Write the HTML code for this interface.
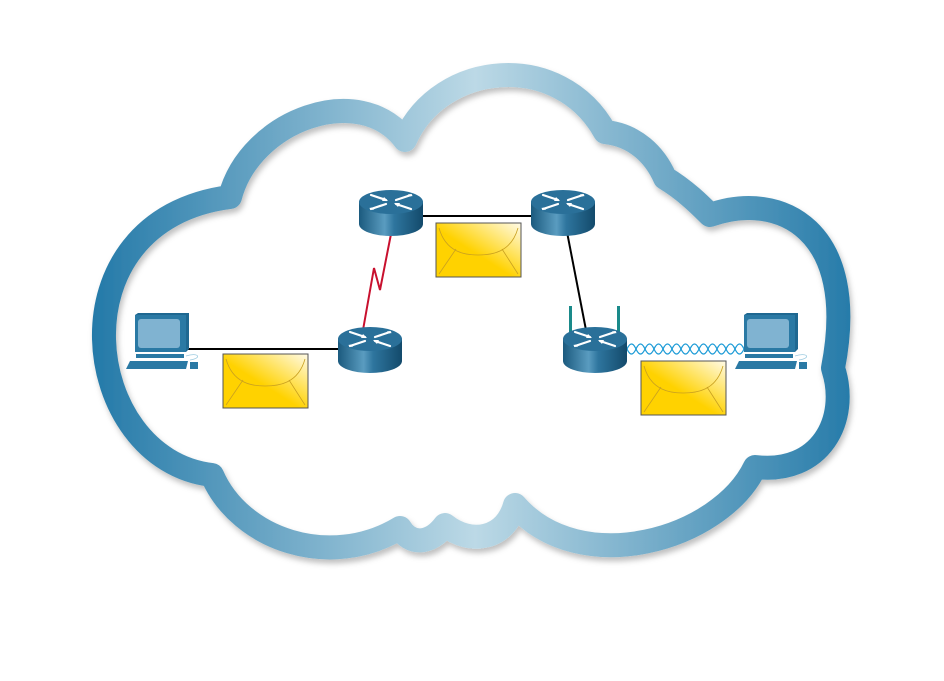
<!DOCTYPE html>
<html><head><meta charset="utf-8"><style>
html,body{margin:0;padding:0;background:#fff;}
svg{display:block;}
</style></head><body>
<svg width="944" height="681" viewBox="0 0 944 681" xmlns="http://www.w3.org/2000/svg">
<defs>
<linearGradient id="cg" x1="90" y1="0" x2="860" y2="0" gradientUnits="userSpaceOnUse">
<stop offset="0" stop-color="#2379a8"/>
<stop offset="0.5" stop-color="#bcd9e6"/>
<stop offset="1" stop-color="#2379a8"/>
</linearGradient>
<linearGradient id="rg" x1="0" y1="0" x2="1" y2="0">
<stop offset="0" stop-color="#1b5a7e"/>
<stop offset="0.4" stop-color="#5a9cc0"/>
<stop offset="0.55" stop-color="#2e759e"/>
<stop offset="1" stop-color="#134a6b"/>
</linearGradient>
<linearGradient id="eg" x1="0" y1="1" x2="1" y2="0">
<stop offset="0.45" stop-color="#ffd200"/>
<stop offset="1" stop-color="#fffbe8"/>
</linearGradient>
<filter id="sh" x="-10%" y="-10%" width="120%" height="120%"><feDropShadow dx="2" dy="4" stdDeviation="3" flood-color="#000" flood-opacity="0.25"/></filter>
<g id="router">
<path d="M-32 0 L-32 22 A32 12 0 0 0 32 22 L32 0 Z" fill="url(#rg)"/>
<ellipse cx="0" cy="0" rx="32" ry="12" fill="#2a7099"/>
<g stroke="#fff" stroke-width="2.2" stroke-linecap="round">
<line x1="-20" y1="-7" x2="-5" y2="-2"/><line x1="20" y1="7" x2="5" y2="2"/>
<line x1="20" y1="-7" x2="5" y2="-2"/><line x1="-20" y1="7" x2="-5" y2="2"/>
</g>
<g fill="#fff">
<polygon points="-3,-1 -9,-1 -7,-5"/>
<polygon points="3,1 9,1 7,5"/>
<polygon points="18,-8 22,-6 14,-5"/>
<polygon points="-18,8 -22,6 -14,5"/>
</g>
</g>
<g id="pc">
<path d="M-23 -27 L-20 -29 L31 -29 L31 7 L28 10 L-23 10 Z" fill="#1f6891"/>
<path d="M-23 -27 L28 -27 L28 10 L-23 10 Z" fill="#2a79a4"/>
<rect x="-20" y="-23" width="42" height="29" rx="3" fill="#80b3d1"/>
<rect x="-22" y="12" width="48" height="4" fill="#2a79a4"/>
<path d="M-28 19 L30 19 L28 27 L-32 27 Z" fill="#2a79a4"/>
<rect x="32" y="20" width="8" height="7" fill="#2a79a4"/>
<path d="M28 14 C40 10,45 16,32 18" fill="none" stroke="#9ccbe0" stroke-width="0.8"/>
</g>
<g id="env">
<rect x="0" y="0" width="85" height="54" fill="url(#eg)" stroke="#555" stroke-width="1"/>
<path d="M3 5 C10 30,30 32,42 32 C55 32,75 30,82 5" fill="none" stroke="#c9a020" stroke-width="0.8"/>
<path d="M20 26 L3 51 M66 26 L82 51" fill="none" stroke="#c9a020" stroke-width="0.8"/>
</g>
</defs>
<path filter="url(#sh)" d="M 230 197 C 250 120, 360 80, 405 140 C 440 60, 560 50, 605 132 C 635 135, 655 155, 665 178 C 685 190, 700 205, 710 215 C 780 190, 860 230, 833 368 C 850 420, 820 475, 755 467 C 720 540, 580 580, 515 505 C 505 540, 470 545, 445 525 C 430 545, 410 545, 400 528 C 330 570, 240 540, 212 475 C 80 460, 50 220, 230 197 Z" fill="none" stroke="url(#cg)" stroke-width="24" stroke-linejoin="round"/>
<line x1="185" y1="349" x2="340" y2="349" stroke="#000" stroke-width="2"/>
<line x1="420" y1="216" x2="534" y2="216" stroke="#000" stroke-width="2"/>
<line x1="567" y1="232" x2="586" y2="330" stroke="#000" stroke-width="2"/>
<polyline points="391,234 380,290 374,268 363,330" fill="none" stroke="#c8102e" stroke-width="2"/>
<g fill="none" stroke="#1a9ad6" stroke-width="1.2">
<path d="M627 349 q4.5 -10 9 0 t9 0 t9 0 t9 0 t9 0 t9 0 t9 0 t9 0 t9 0 t9 0 t9 0 t9 0 t9 0"/>
<path d="M627 349 q4.5 10 9 0 t9 0 t9 0 t9 0 t9 0 t9 0 t9 0 t9 0 t9 0 t9 0 t9 0 t9 0 t9 0"/>
</g>
<use href="#router" x="391" y="202"/>
<use href="#router" x="563" y="202"/>
<use href="#router" x="370" y="339"/>
<rect x="569" y="306" width="3" height="30" fill="#1a8a8a"/>
<rect x="617" y="306" width="3" height="30" fill="#1a8a8a"/>
<use href="#router" x="595" y="339"/>
<use href="#pc" x="158" y="342"/>
<use href="#pc" x="767" y="342"/>
<use href="#env" x="436" y="223"/>
<use href="#env" x="223" y="354"/>
<use href="#env" x="641" y="361"/>
</svg>
</body></html>
